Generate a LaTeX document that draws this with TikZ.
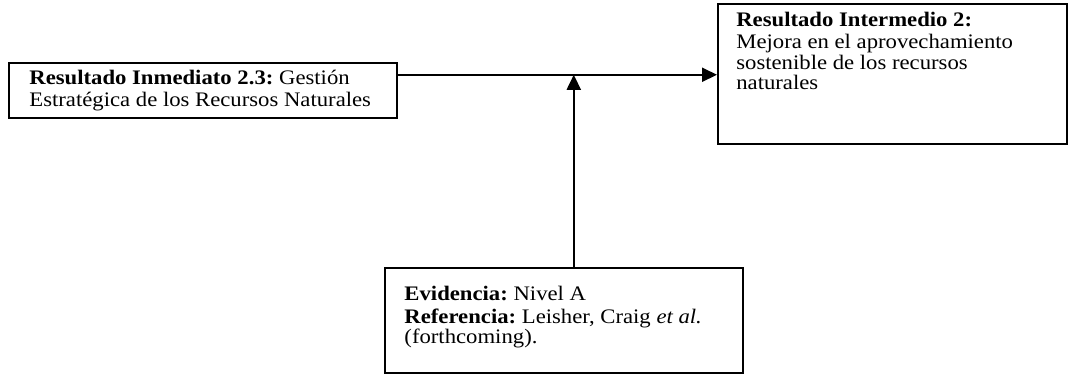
\documentclass[tikz,border=0pt]{standalone}
\usepackage{fontspec}
\setmainfont[FakeStretch=1.1]{Liberation Serif}
\usetikzlibrary{positioning,arrows.meta}

\tikzset{
  caja/.style={draw,line width=0.9pt,rectangle,inner sep=0pt,anchor=north west},
  texto/.style={align=left,inner sep=0pt,font=\fontsize{11}{10.9}\selectfont},
  flecha/.style={line width=0.9pt,-{Triangle[length=8pt,width=7.5pt]}}
}
\frenchspacing

\begin{document}
\begin{tikzpicture}[x=0.533pt,y=-0.533pt]
  \useasboundingbox (0,0) rectangle (1068,374);

  % cajas
  \node[caja,minimum width=206.8pt,minimum height=29.3pt] (inmediato) at (8,62) {};
  \node[caja,minimum width=186pt,minimum height=74.6pt] (intermedio) at (717,3) {};
  \node[caja,minimum width=190.8pt,minimum height=56pt] (evidencia) at (384,267) {};

  % textos
  \node[texto,below right=4.1pt and 11.2pt of inmediato.north west] (inmediato-txt)
    {\strut\textbf{Resultado Inmediato 2.3:} Gestión\\Estratégica de los Recursos Naturales};
  \node[texto,below right=4.6pt and 10.1pt of intermedio.north west] (intermedio-txt)
    {\strut\textbf{Resultado Intermedio 2:}\\Mejora en el aprovechamiento\\sostenible de los recursos\\naturales};
  \node[texto,below right=10pt and 10.7pt of evidencia.north west] (evidencia-txt)
    {\strut\textbf{Evidencia:} Nivel A\\\textbf{Referencia:} Leisher, Craig \textit{et al.}\\(forthcoming).};

  % flechas
  \coordinate (salida) at ([yshift=8.3pt]inmediato.east);
  \draw[flecha] (salida) -- (salida -| intermedio.west);
  \draw[flecha] ([xshift=5.3pt]evidencia.north) -- ([xshift=5.3pt]evidencia.north |- salida);
\end{tikzpicture}
\end{document}
